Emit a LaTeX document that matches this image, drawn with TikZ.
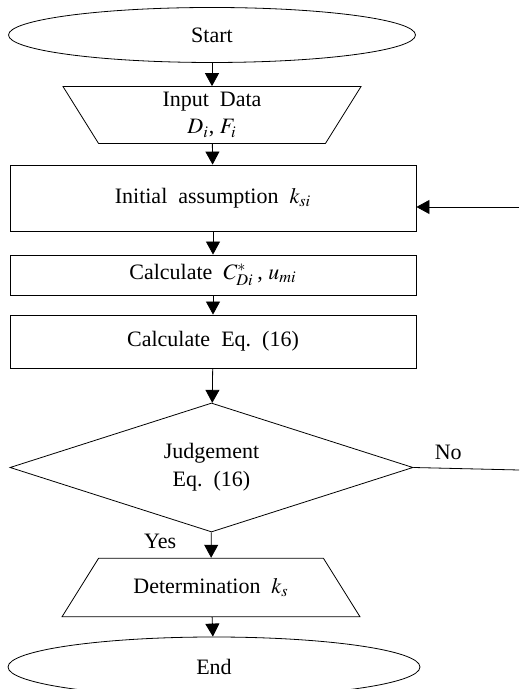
\documentclass[tikz,border=0pt]{standalone}
\usepackage{mathptmx}
\usepackage{fontspec}
\setmainfont{Liberation Serif}
\usetikzlibrary{shapes.geometric,arrows.meta}

\tikzset{
  terminal/.style={draw, ellipse, inner sep=0pt, minimum width=#1},
  iobox/.style={draw, trapezium, trapezium stretches body, trapezium left angle=58,
    trapezium right angle=58, minimum width=149pt, inner xsep=0pt, align=center},
  procbox/.style={draw, rectangle, minimum width=203pt, inner sep=0pt},
  decide/.style={draw, diamond, aspect=3, inner sep=0pt, minimum width=201.5pt,
    minimum height=64.5pt, align=center},
  flow/.style={-{Triangle[width=7pt,length=6.5pt]}},
}

\begin{document}
\begin{tikzpicture}[x=0.5pt, y=0.5pt, font=\fontsize{11}{13}\selectfont]
      \useasboundingbox (0,0) rectangle (519,689);
      \node[terminal=203.5pt, minimum height=27.5pt] (start) at (212,654) {Start};
      \node[iobox, shape border rotate=180, inner ysep=3pt] (input) at (212,574) {Input\ \ Data\\[0.5pt]$D_i$, $F_i$};
      \node[procbox, minimum height=33pt] (init) at (213,491) {Initial\ \ assumption\ \ $k_{si}$};
      \node[procbox, minimum height=20pt] (calc) at (213,414) {Calculate\ \ $C^{*}_{Di}$\,, $u_{mi}$};
      \node[procbox, minimum height=26.5pt] (eq) at (213,347.5) {Calculate\ \ Eq.\ \ (16)};
      \node[decide] (judge) at (211.5,221.5) {Judgement\\[1pt]Eq.\ \ (16)};
      \node[iobox, inner ysep=10pt] (det) at (211,101.5) {Determination\ \ $k_s$};
      \node[terminal=206pt, minimum height=30pt] (stop) at (214,22) {End};
      \coordinate (noR) at (519,219);
      \coordinate (backR) at (519,482);
      \draw[flow] (start) -- (input);
      \draw[flow] (input) -- (init);
      \draw[flow] (init) -- (calc);
      \draw[flow] (calc) -- (eq);
      \draw[flow] (eq) -- (judge);
      \draw[flow] (judge) -- (det) node[pos=.35, left=14pt] {Yes};
      \draw[flow] (det) -- (stop);
      \draw (judge.east) -- (noR) node[pos=.33, above=1pt] {No};
      \draw[flow] (backR) -- (backR -| init.east);
   \end{tikzpicture}
\end{document}
